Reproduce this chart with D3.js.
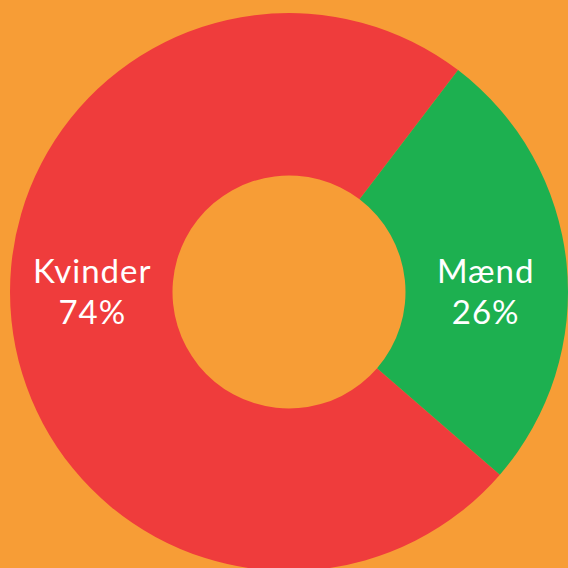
<!DOCTYPE html>
<html>
<head>
<meta charset="utf-8">
<script src="https://cdn.jsdelivr.net/npm/d3@7"></script>
<style>
  html, body { margin: 0; padding: 0; background: #F79D36; }
  svg { display: block; }
</style>
</head>
<body>
<svg id="chart" width="568" height="568"></svg>
<script>
const categories = ["Kvinder", "Mænd"];
const values = [74, 26];
const percentLabels = ["74%", "26%"];
const colors = ["#EF3C3C", "#1DB050"];

const W = 568, H = 568;
const cx = 289, cy = 292;
const outerR = 279, innerR = 116.5;
const startDeg = 130.9;

const svg = d3.select("#chart");
svg.append("rect").attr("width", W).attr("height", H).attr("fill", "#F79D36");

const data = categories.map((c, i) => ({ name: c, value: values[i], label: percentLabels[i], color: colors[i] }));

const pie = d3.pie().value(d => d.value).sort(null)
  .startAngle(startDeg * Math.PI / 180)
  .endAngle(startDeg * Math.PI / 180 + 2 * Math.PI);

const arc = d3.arc().innerRadius(innerR).outerRadius(outerR);

const g = svg.append("g").attr("transform", `translate(${cx},${cy})`);
const arcs = pie(data);

g.selectAll("path").data(arcs).join("path")
  .attr("d", arc)
  .attr("fill", d => d.data.color);

const labels = g.selectAll("text").data(arcs).join("text")
  .attr("text-anchor", "middle")
  .attr("fill", "#ffffff")
  .style("font-family", "Lato, 'Open Sans', sans-serif")
  .style("font-size", "33px")
  .style("letter-spacing", "1px")
  .style("font-weight", "400");

labels.each(function(d) {
  const [x] = arc.centroid(d);
  const t = d3.select(this);
  t.append("tspan").attr("x", x).attr("y", -9).text(d.data.name);
  t.append("tspan").attr("x", x).attr("y", 32).text(d.data.label);
});
</script>
</body>
</html>
